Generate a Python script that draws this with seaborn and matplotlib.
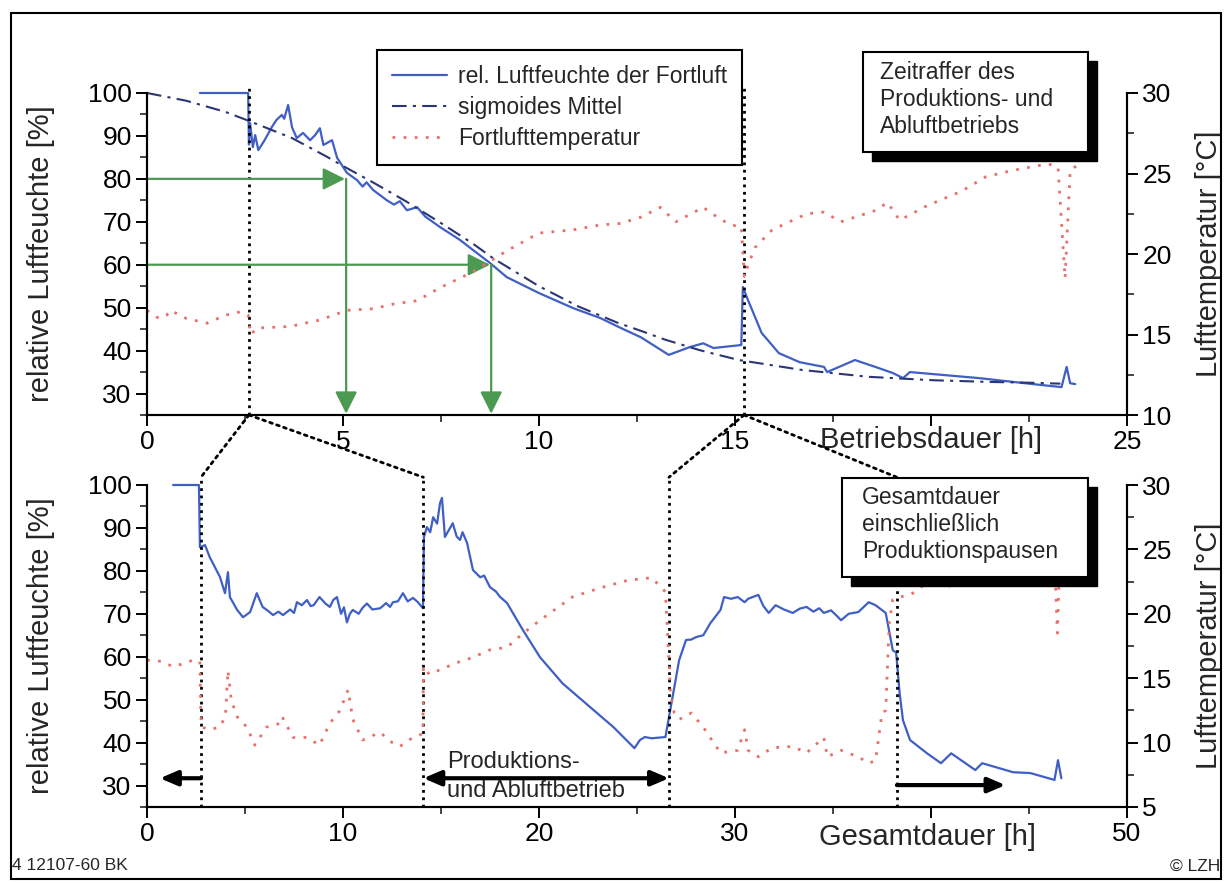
import numpy as np
import pandas as pd
import matplotlib
matplotlib.use("Agg")
import matplotlib.pyplot as plt
import seaborn as sns
from matplotlib.ticker import MultipleLocator, FixedLocator, FixedFormatter
from matplotlib.patches import Rectangle, ConnectionPatch
from matplotlib.lines import Line2D

# ---------------- data ----------------
# top panel: Betriebsdauer [h]
top_rh_h = [1.35, 2.58, 2.60, 2.63, 2.70, 2.76, 2.84, 3.0, 3.18, 3.3, 3.44, 3.5, 3.6, 3.7, 3.82, 3.98,
            4.16, 4.29, 4.41, 4.5, 4.72, 4.85, 5.1, 5.36, 5.5, 5.6, 5.77, 6.12, 6.3, 6.45, 6.63, 6.89,
            7.1, 7.47, 7.98, 8.32, 8.75, 9.18, 10.0, 10.87, 11.56, 12.08, 12.6, 13.31, 13.84, 14.19,
            14.45, 15.16, 15.20, 15.33, 15.68, 16.12, 16.65, 17.27, 17.35, 18.06, 18.58, 19.02, 19.29,
            19.46, 20.34, 21.22, 22.10, 22.80, 23.33, 23.46, 23.55, 23.68]
top_rh_v = [100, 100, 88, 93, 87.4, 90.2, 86.7, 89, 92, 93.7, 94.9, 94, 97.2, 92, 89.5, 90.7,
            89, 90.2, 91.8, 87.9, 89, 84.9, 81.4, 79.7, 78.2, 79.2, 77.4, 75, 74, 74.8, 72.7, 73.4,
            71.2, 68.8, 65.8, 63.4, 60.4, 57.1, 53.4, 49.9, 47.6, 45.3, 43.1, 39.0, 40.8, 41.7,
            40.6, 41.3, 54.8, 51.8, 44.1, 39.4, 37.3, 36.2, 35.0, 37.8, 36.2, 34.8, 33.6,
            35.0, 34.3, 33.6, 32.7, 32.0, 31.5, 36.2, 32.4, 32.2]

top_sig_h = [0, 1.0, 2.0, 2.6, 3.7, 4.58, 5.0, 5.8, 6.62, 7.5, 8.3, 8.83, 10.0, 11.0, 12.0, 12.6,
             13.2, 14.1, 15.1, 16.7, 18.4, 20.05, 21.5, 22.6, 23.3]
top_sig_v = [100, 98.2, 95.6, 93.5, 89.5, 85.2, 83.0, 79.0, 74.7, 69.7, 65.0, 61.5, 55.0, 50.3, 46.5, 44.6,
             42.6, 40.1, 37.8, 35.5, 33.9, 33.1, 32.7, 32.5, 32.3]

top_t_h = [0, 0.3, 0.5, 0.6, 1.0, 1.53, 2.0, 2.37, 2.58, 2.65, 2.8, 3.65, 4.41, 5.1, 5.77, 6.3, 6.89,
           7.47, 8.32, 9.18, 10.0, 10.87, 11.56, 12.08, 12.61, 13.09, 13.49, 14.19, 14.54, 14.89, 15.16,
           15.24, 15.33, 15.51, 15.95, 16.83, 17.27, 17.70, 18.58, 18.89, 19.20, 19.90, 20.78, 21.40,
           22.10, 22.98, 23.24, 23.42, 23.55, 23.85]
top_t_v = [16.5, 16.0, 16.2, 16.5, 16.0, 15.7, 16.2, 16.4, 16.2, 15.0, 15.4, 15.5, 15.9, 16.5, 16.6, 16.9, 17.1,
           17.9, 18.9, 20.2, 21.3, 21.5, 21.8, 21.9, 22.3, 22.9, 22.0, 22.9, 22.3, 21.8, 21.7,
           18.6, 19.3, 20.4, 21.5, 22.5, 22.6, 22.0, 22.7, 23.2, 22.1, 23.0, 23.9, 24.8,
           25.2, 25.6, 25.4, 18.5, 25.2, 25.7]

# bottom panel: Gesamtdauer [h]
bot_rh_h = [1.33, 2.65, 2.7, 2.96, 3.2, 3.72, 3.98, 4.13, 4.23, 4.6, 4.9, 5.26, 5.6, 5.9, 6.2, 6.43, 6.7, 6.94,
            7.3, 7.5, 7.65, 7.9, 8.16, 8.35, 8.5, 8.8, 9.1, 9.33, 9.5, 9.69, 9.9, 10.05, 10.2, 10.35, 10.5,
            10.8, 11.0, 11.22, 11.5, 11.9, 12.2, 12.4, 12.55, 12.8, 13.06, 13.3, 13.57, 13.8, 14.08,
            14.13, 14.28, 14.45, 14.6, 14.8, 14.95, 15.05, 15.2, 15.4, 15.6, 15.8, 15.97, 16.1, 16.33,
            16.63, 17.0, 17.2, 17.5, 17.8, 18.0, 18.37, 19.18, 20.05, 21.2, 22.6, 23.8, 24.87, 25.15,
            25.40, 25.75, 26.45, 26.63, 27.15, 27.50, 27.77, 28.03, 28.38, 28.74, 29.26, 29.44, 29.8,
            30.14, 30.49, 30.67, 31.19, 31.45, 31.72, 32.07, 32.5, 32.95, 33.3, 33.65, 34.0, 34.3, 34.53,
            34.9, 35.2, 35.41, 35.8, 36.29, 36.82, 37.17, 37.69, 38.05, 38.22, 38.40, 38.57, 38.93,
            39.80, 40.51, 41.03, 42.26, 42.61, 44.19, 45.07, 46.30, 46.48, 46.65]
bot_rh_v = [100, 100, 85.5, 86, 83.2, 78.6, 74.8, 79.7, 73.9, 70.9, 69.2, 70.4, 74.8, 71.6, 70.6, 69.7, 70.5, 69.7,
            71, 70.2, 72.7, 72.0, 73.2, 71.8, 72, 73.9, 72.4, 71.6, 73.2, 73.9, 70, 71.5, 68, 70.0, 70.9,
            70, 71.4, 72.4, 71.0, 71.3, 72.5, 71.6, 72.7, 72.9, 74.8, 72.9, 73.7, 72.8, 71.3,
            87.9, 90.2, 89.0, 92.5, 91, 95.8, 97, 87.9, 89.5, 91.1, 88, 87.2, 89, 86.5,
            80.2, 78.5, 78.9, 76.2, 75.2, 74, 72.5, 66.2, 59.9, 53.8, 48.3, 43.6, 38.7, 40.6,
            41.3, 41, 41.3, 45.9, 59.2, 63.9, 64, 64.6, 65, 67.8, 70.9, 73.9, 73.5,
            73.9, 72.7, 73.5, 74.4, 71.8, 70.2, 72, 71, 70.2, 71.2, 71.6, 70.5, 71.3, 70.2,
            70.8, 69.5, 68.5, 70, 70.4, 72.7, 72, 70.2, 61.5, 61, 51.5, 45.2, 40.6,
            37.5, 35.2, 37.5, 33.6, 35.2, 33.1, 32.9, 31.3, 35.9, 31.7]

bot_t_h = [0, 0.8, 1.3, 1.8, 2.35, 2.7, 2.75, 2.8, 3.2, 3.7, 4.0, 4.13, 4.3, 4.6, 5.1, 5.5, 6.1, 6.8, 6.9,
           7.45, 8.16, 8.8, 9.33, 9.85, 10.26, 10.5, 11.0, 11.9, 12.4, 12.9, 13.57, 14.08, 14.1, 14.4,
           15.8, 16.6, 17.5, 18.37, 19.2, 20.05, 21.7, 23.1, 24.52, 25.75, 26.45, 26.63, 26.71, 26.9,
           27.15, 27.77, 28.38, 29.26, 30.14, 30.49, 30.67, 31.19, 31.90, 32.95, 33.65, 34.53, 34.71,
           35.41, 36.29, 36.82, 37.17, 37.5, 37.69, 37.87, 38.05, 38.40, 38.98, 39.86, 40.3, 40.73,
           41.61, 41.9, 42.2, 42.93, 43.81, 44.43, 45.13, 46.01, 46.27, 46.45, 46.58, 46.88]
bot_t_v = [16.4, 16.3, 15.9, 16.1, 16.4, 16.3, 12.0, 11.2, 11.0, 11.2, 12.0, 15.6, 13.3, 12.0, 11.2, 9.8, 11.2, 11.5, 12.0,
           10.4, 10.4, 9.8, 11.5, 12.5, 14.1, 11.8, 10.2, 10.8, 10.1, 9.7, 10.4, 10.7, 15.9, 15.3,
           16.2, 16.6, 17.2, 17.4, 18.5, 19.5, 21.3, 22.0, 22.6, 22.8, 21.7, 16.4, 13.8, 12.3,
           11.8, 12.3, 11.2, 9.2, 9.4, 11.0, 9.4, 8.9, 9.6, 9.7, 9.2, 10.4, 8.9,
           9.4, 8.9, 8.4, 8.6, 12.3, 12.5, 19.3, 21.1, 21.3, 21.5, 22.5, 22.6, 22.0,
           22.7, 23.2, 22.1, 23.0, 23.9, 24.8, 25.2, 25.6, 25.4, 18.5, 25.2, 25.7]

# markers of the time-lapse cuts
top_cut_h = [2.6, 15.23]
bot_cut_h = [2.75, 14.1, 26.63, 38.26]

# green reading arrows (humidity level -> hour)
arrow_levels = [80, 60]
arrow_hours = [5.05, 8.75]

# bottom phase arrows (start, end)
phase_left = (2.75, 0.66)
phase_mid = (14.1, 26.63)
phase_right = (38.26, 43.8)

top_xticks = [0, 5, 10, 15, 20, 25]
top_xlabels = ["0", "5", "10", "15", "", "25"]
bot_xticks = [0, 10, 20, 30, 40, 50]
bot_xlabels = ["0", "10", "20", "30", "", "50"]

labels = ["rel. Luftfeuchte der Fortluft", "sigmoides Mittel", "Fortlufttemperatur"]

# ---------------- style ----------------
sns.set_theme(style="ticks")
plt.rcParams["font.family"] = ["Liberation Sans", "DejaVu Sans"]
plt.rcParams["axes.linewidth"] = 1.5

BLUE = "#3f5fc4"
NAVY = "#2b3575"
RED = "#e8706c"
GREEN = "#4c9a52"
FS = 19
FL = 21

W, H = 1229, 883
fig = plt.figure(figsize=(W / 100, H / 100), dpi=100)
fig.patch.set_facecolor("white")

def fx(px):
    return px / W

def fy(py):
    return 1 - py / H

ax1 = fig.add_axes([fx(147), fy(415), fx(1127) - fx(147), fy(93) - fy(415)])
ax2 = fig.add_axes([fx(147), fy(807), fx(1127) - fx(147), fy(485) - fy(807)])
ax1r = ax1.twinx()
ax2r = ax2.twinx()

for a in (ax1, ax2, ax1r, ax2r):
    a.set_facecolor("none")
    a.spines["top"].set_visible(False)
    for s in ("left", "right", "bottom"):
        a.spines[s].set_color("black")
        a.spines[s].set_linewidth(1.5)
    a.tick_params(which="major", direction="out", length=8, width=1.4, labelsize=FS, colors="black", pad=3)
    a.tick_params(which="minor", direction="out", length=5, width=1.2)

def draw_panel(ax, axr, rh_h, rh_v, t_h, t_v, sig=None):
    sns.lineplot(x=rh_h, y=rh_v, ax=ax, color=BLUE, lw=1.6, sort=False, estimator=None, zorder=3)
    if sig is not None:
        sns.lineplot(x=sig[0], y=sig[1], ax=ax, color=NAVY, lw=1.5, linestyle=(0, (7, 3, 1.5, 3)),
                     sort=False, estimator=None, zorder=3)
    sns.lineplot(x=t_h, y=t_v, ax=axr, color=RED, lw=2.0, linestyle=(0, (1, 3)),
                 sort=False, estimator=None, zorder=2)
    for ln in ax.lines:
        ln.set_clip_on(False)

draw_panel(ax1, ax1r, top_rh_h, top_rh_v, top_t_h, top_t_v, sig=(top_sig_h, top_sig_v))
draw_panel(ax2, ax2r, bot_rh_h, bot_rh_v, bot_t_h, bot_t_v)

# axes limits and ticks
ax1.set_xlim(0, 25)
ax1.set_ylim(25, 100)
ax1r.set_ylim(10, 30)
ax2.set_xlim(0, 50)
ax2.set_ylim(25, 100)
ax2r.set_ylim(5, 30)

for a in (ax1, ax2):
    a.yaxis.set_major_locator(FixedLocator([30, 40, 50, 60, 70, 80, 90, 100]))
    a.yaxis.set_minor_locator(MultipleLocator(5))
    a.set_ylabel("relative Luftfeuchte [%]", fontsize=FL)
    a.yaxis.set_label_coords((55 - 147) / 980, 0.5)
for a in (ax1r, ax2r):
    a.yaxis.set_major_locator(MultipleLocator(5))
    a.yaxis.set_minor_locator(MultipleLocator(2.5))
    a.set_ylabel("Lufttemperatur [°C]", fontsize=FL)
    a.yaxis.set_label_coords((1195 - 147) / 980, 0.5)

ax1.xaxis.set_major_locator(FixedLocator(top_xticks))
ax1.xaxis.set_major_formatter(FixedFormatter(top_xlabels))
ax1.xaxis.set_minor_locator(MultipleLocator(2.5))
ax2.xaxis.set_major_locator(FixedLocator(bot_xticks))
ax2.xaxis.set_major_formatter(FixedFormatter(bot_xlabels))
ax2.xaxis.set_minor_locator(MultipleLocator(5))
ax1.set_xlabel("")
ax2.set_xlabel("")
ax1.text(20, -0.078, "Betriebsdauer [h]", transform=ax1.get_xaxis_transform(),
         ha="center", va="center", fontsize=FL)
ax2.text(39.8, -0.092, "Gesamtdauer [h]", transform=ax2.get_xaxis_transform(),
         ha="center", va="center", fontsize=FL)

# dotted cut markers
for h in top_cut_h:
    ax1.plot([h, h], [25, 101.5], ls=":", color="black", lw=2.0, clip_on=False, zorder=4)
for h in bot_cut_h:
    ax2.plot([h, h], [25, 101.8], ls=":", color="black", lw=2.0, clip_on=False, zorder=4)
connections = [(top_cut_h[0], bot_cut_h[0]), (top_cut_h[0], bot_cut_h[1]),
               (top_cut_h[1], bot_cut_h[2]), (top_cut_h[1], bot_cut_h[3])]
for ht, hb in connections:
    cp = ConnectionPatch(xyA=(ht, 25), coordsA=ax1.transData, xyB=(hb, 101.8), coordsB=ax2.transData,
                         ls=":", color="black", lw=2.0, zorder=1)
    fig.add_artist(cp)

# green reading arrows
for lvl, hr in zip(arrow_levels, arrow_hours):
    ap = dict(arrowstyle="-|>,head_length=0.9,head_width=0.45", color=GREEN, lw=1.6,
              shrinkA=0, shrinkB=0, mutation_scale=15)
    ax1.annotate("", xy=(hr, lvl), xytext=(0, lvl), arrowprops=ap, zorder=5)
    ax1.annotate("", xy=(hr + 0.03, 25.3), xytext=(hr + 0.03, lvl), arrowprops=ap, zorder=5)

# bottom phase arrows
bp = dict(arrowstyle="-|>,head_length=0.7,head_width=0.3", color="black", lw=3,
          shrinkA=0, shrinkB=0, mutation_scale=15)
ax2.annotate("", xy=(phase_left[1], 31.7), xytext=(phase_left[0], 31.7), arrowprops=bp, zorder=6)
ax2.annotate("", xy=(phase_mid[1], 31.7), xytext=(phase_mid[0], 31.7),
             arrowprops=dict(bp, arrowstyle="<|-|>,head_length=0.7,head_width=0.3"), zorder=6)
ax2.annotate("", xy=(phase_right[1], 30.1), xytext=(phase_right[0], 30.1), arrowprops=bp, zorder=6)
ax2.text(15.3, 35.5, "Produktions-", fontsize=17, ha="left", va="center", zorder=6)
ax2.text(15.3, 28.8, "und Abluftbetrieb", fontsize=17, ha="left", va="center", zorder=6)

# legend
handles = [Line2D([], [], color=BLUE, lw=1.6),
           Line2D([], [], color=NAVY, lw=1.5, ls=(0, (7, 3, 1.5, 3))),
           Line2D([], [], color=RED, lw=2.0, ls=(0, (1, 3)))]
leg = fig.legend(handles, labels, loc="upper left", bbox_to_anchor=(fx(377), fy(50)),
                 bbox_transform=fig.transFigure, fontsize=16.5, frameon=True, fancybox=False,
                 framealpha=1, edgecolor="black", handlelength=2.4, labelspacing=0.36,
                 borderpad=0.65, handletextpad=0.5, borderaxespad=0)
leg.get_frame().set_linewidth(1.5)
leg.set_zorder(10)

# annotation boxes with shadow
def shadow_box(x0, y0, x1, y1, text, tx, ty):
    fig.add_artist(Rectangle((fx(x0 + 9), fy(y1 + 9)), fx(x1 - x0), fy(y0) - fy(y1),
                             transform=fig.transFigure, fc="black", ec="black", zorder=8))
    fig.add_artist(Rectangle((fx(x0), fy(y1)), fx(x1 - x0), fy(y0) - fy(y1),
                             transform=fig.transFigure, fc="white", ec="black", lw=1.5, zorder=9))
    fig.text(fx(tx), fy(ty), text, fontsize=16.5, ha="left", va="top", linespacing=1.22, zorder=11)

shadow_box(863, 52, 1088, 152, "Zeitraffer des\nProduktions- und\nAbluftbetriebs", 880, 61)
shadow_box(842, 478, 1088, 577, "Gesamtdauer\neinschließlich\nProduktionspausen", 862, 486)

# footer and frame
fig.text(fx(12), fy(866), "4 12107-60 BK", fontsize=12.5, ha="left", va="center")
fig.text(fx(1220), fy(866), "© LZH", fontsize=12.5, ha="right", va="center")
fig.add_artist(Rectangle((fx(11), fy(879)), fx(1221 - 11), fy(13) - fy(879),
                         transform=fig.transFigure, fc="none", ec="black", lw=1.5, zorder=12))

fig.savefig("out.png", dpi=100)
